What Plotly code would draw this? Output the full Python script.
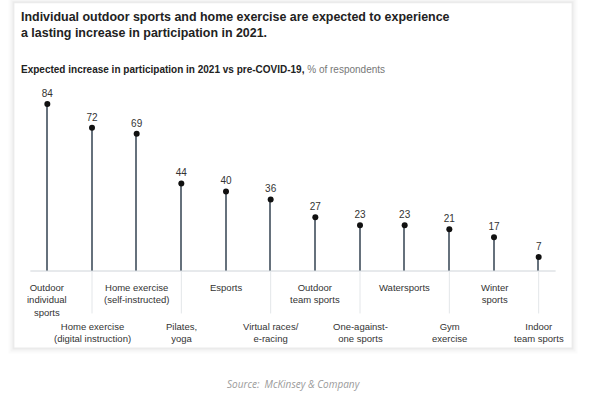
import plotly.graph_objects as go

categories = ["Outdoor<br>individual<br>sports", "Home exercise<br>(digital instruction)",
              "Home exercise<br>(self-instructed)", "Pilates,<br>yoga", "Esports",
              "Virtual races/<br>e-racing", "Outdoor<br>team sports", "One-against-<br>one sports",
              "Watersports", "Gym<br>exercise", "Winter<br>sports", "Indoor<br>team sports"]
values = [84, 72, 69, 44, 40, 36, 27, 23, 23, 21, 17, 7]
label_row = [1, 2, 1, 2, 1, 2, 1, 2, 1, 2, 1, 2]

W, H = 600, 393
L, R, T, B = 24.6, 38.6, 92.4, 122.3
PW, PH = W - L - R, H - T - B

def px(x):
    return (x - L) / PW

def py(y):
    return ((H - B) - y) / PH

idx = list(range(len(categories)))
FONT = "Liberation Sans, Arial, sans-serif"

fig = go.Figure()
fig.add_trace(go.Bar(x=idx, y=values, width=0.034, marker=dict(color="#66717c", line=dict(width=0)),
                     hoverinfo="skip"))
fig.add_trace(go.Scatter(x=idx, y=values, mode="markers+text", text=[str(v) for v in values],
                         textposition="top center", cliponaxis=False,
                         textfont=dict(family=FONT, size=10, color="#333333"),
                         marker=dict(size=6, color="#111111")))

shapes = []
# card shadow + card
for pad, col in [(6, "rgba(0,0,0,0.015)"), (4, "rgba(0,0,0,0.025)"), (2, "rgba(0,0,0,0.04)")]:
    shapes.append(dict(type="rect", xref="paper", yref="paper", x0=px(14 - pad), x1=px(572 + pad),
                       y0=py(347 + pad), y1=py(4 - pad), fillcolor=col, line=dict(width=0), layer="below"))
shapes.append(dict(type="rect", xref="paper", yref="paper", x0=px(14), x1=px(572), y0=py(347), y1=py(4),
                   fillcolor="white", line=dict(width=0), layer="below"))
# baseline
shapes.append(dict(type="line", xref="x", yref="paper", x0=-0.38, x1=11.38, y0=0, y1=0,
                   line=dict(color="#cfd4d9", width=1)))
# connectors for second-row labels
for i in idx:
    if label_row[i] == 2:
        shapes.append(dict(type="line", xref="x", yref="paper", x0=i, x1=i, y0=0, y1=py(313),
                           line=dict(color="#e3e6e9", width=1)))

annotations = []
for i in idx:
    top = 280 if label_row[i] == 1 else 318.5
    annotations.append(dict(x=i, xref="x", y=py(top), yref="paper", yanchor="top", xanchor="center",
                            text=categories[i], showarrow=False, align="center",
                            font=dict(family=FONT, size=9.5, color="#333333")))

annotations.append(dict(x=px(19), xref="paper", y=py(9), yref="paper", xanchor="left", yanchor="top",
                        align="left", showarrow=False,
                        text="<b>Individual outdoor sports and home exercise are expected to experience<br>a lasting increase in participation in 2021.</b>",
                        font=dict(family=FONT, size=12.45, color="#222222")))
annotations.append(dict(x=px(19), xref="paper", y=py(70), yref="paper", xanchor="left", yanchor="middle",
                        align="left", showarrow=False,
                        text="<b>Expected increase in participation in 2021 vs pre-COVID-19,</b> <span style='color:#777777'>% of respondents</span>",
                        font=dict(family=FONT, size=10, color="#222222")))
annotations.append(dict(x=px(294), xref="paper", y=py(383), yref="paper", xanchor="center", yanchor="middle",
                        showarrow=False, text="<i>Source:  McKinsey &amp; Company</i>",
                        font=dict(family="Open Sans, sans-serif", size=10, color="#9a9a9a")))

fig.update_layout(
    width=W, height=H, margin=dict(l=L, r=R, t=T, b=B, pad=0),
    paper_bgcolor="white", plot_bgcolor="rgba(0,0,0,0)", showlegend=False,
    xaxis=dict(range=[-0.5, 11.5], visible=False, fixedrange=True),
    yaxis=dict(range=[0, 90], visible=False, fixedrange=True),
    shapes=shapes, annotations=annotations, bargap=0,
)
fig.write_html("out.html", config={"displayModeBar": False},
               post_script="document.body.style.margin='0';")
